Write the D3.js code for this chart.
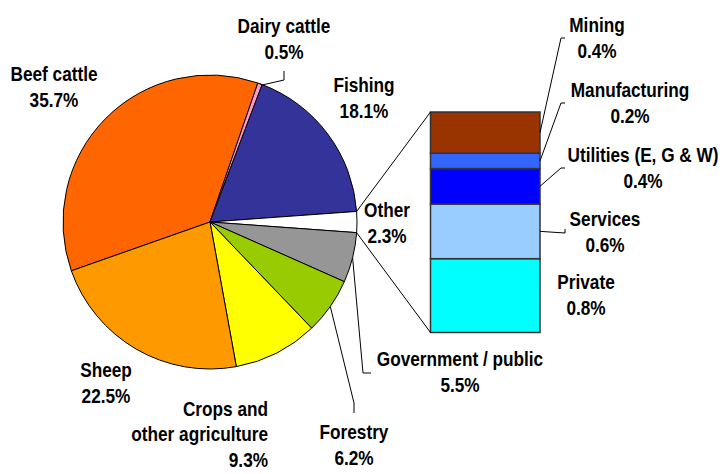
<!DOCTYPE html>
<html>
<head>
<meta charset="utf-8">
<script src="https://cdn.jsdelivr.net/npm/d3@7"></script>
<style>
  html, body { margin: 0; padding: 0; background: #fff; }
  svg { display: block; }
  text { font-family: "Liberation Sans", Arial, sans-serif; font-weight: bold; font-size: 21px; fill: #000; }
</style>
</head>
<body>
<svg id="chart" width="720" height="474"></svg>
<script>
// Share of primary sector (pie) and breakdown of "Other" (stacked bar), in percent
const pieCategories = ["Beef cattle", "Dairy cattle", "Fishing", "Other", "Government / public", "Forestry", "Crops and other agriculture", "Sheep"];
const pieValues = [35.7, 0.5, 18.1, 2.3, 5.5, 6.2, 9.3, 22.5];
const pieColors = ["#ff6600", "#ff99cc", "#333399", "#ffffff", "#969696", "#99cc00", "#ffff00", "#ff9900"];

// Components of "Other", listed from the bottom of the bar upward
const barCategories = ["Private", "Services", "Utilities (E, G & W)", "Manufacturing", "Mining"];
const barValues = [0.77, 0.57, 0.37, 0.16, 0.43];
const barColors = ["#00ffff", "#99ccff", "#0000ff", "#3366ff", "#993300"];

const fmt = d3.format(".1f");
const svg = d3.select("#chart");

// ---- pie ----
const cx = 210, cy = 222, radius = 147;
const start = -109.4 * Math.PI / 180;
const pie = d3.pie().sort(null).value(d => d.value).startAngle(start).endAngle(start + 2 * Math.PI);
const arcs = pie(pieCategories.map((c, i) => ({ name: c, value: pieValues[i], color: pieColors[i] })));
const arc = d3.arc().innerRadius(0).outerRadius(radius);

const gPie = svg.append("g").attr("transform", `translate(${cx},${cy})`);
gPie.selectAll("path").data(arcs).join("path")
  .attr("d", arc)
  .attr("fill", d => d.data.color)
  .attr("stroke", "#000")
  .attr("stroke-width", 1)
  .attr("stroke-linejoin", "round");

const onRim = a => [cx + radius * Math.sin(a), cy - radius * Math.cos(a)];
const midRim = d => onRim((d.startAngle + d.endAngle) / 2);

// ---- stacked bar for "Other" ----
const barX0 = 430.5, barX1 = 540;
const barTotal = d3.sum(barValues);
const y = d3.scaleLinear().domain([0, barTotal]).range([332.5, 112]);
let acc = 0;
const segs = barCategories.map((c, i) => {
  const s = { name: c, value: barValues[i], color: barColors[i], y0: acc, y1: acc + barValues[i] };
  acc += barValues[i];
  return s;
});

svg.append("g").selectAll("rect").data(segs).join("rect")
  .attr("x", barX0)
  .attr("width", barX1 - barX0)
  .attr("y", d => y(d.y1))
  .attr("height", d => y(d.y0) - y(d.y1))
  .attr("fill", d => d.color)
  .attr("stroke", "#333")
  .attr("stroke-width", 1.5);

// connectors from the "Other" slice to the bar corners
const other = arcs.find(d => d.data.name === "Other");
const line = d3.line();
const lines = svg.append("g").attr("fill", "none").attr("stroke", "#000").attr("stroke-width", 1);
lines.append("path").attr("d", line([onRim(other.startAngle), [barX0, y(barTotal)]]));
lines.append("path").attr("d", line([onRim(other.endAngle), [barX0, y(0)]]));

// leader lines for pie labels
const pieLeaders = {
  "Dairy cattle": [[262, 85], [284, 80], [284, 71]],
  "Government / public": [[363, 373], [371, 373]],
  "Forestry": [[354, 403], [354, 413]]
};
arcs.forEach(d => {
  const pts = pieLeaders[d.data.name];
  if (pts) lines.append("path").attr("d", line([midRim(d), ...pts]));
});

// leader lines for bar labels
const barLeaders = {
  "Mining": [[561, 38], [565, 38]],
  "Manufacturing": [[561, 103], [565, 103]],
  "Utilities (E, G & W)": [[561, 168], [565, 168]],
  "Services": [[565, 233], [565, 229]]
};
segs.forEach(s => {
  const pts = barLeaders[s.name];
  if (pts) lines.append("path").attr("d", line([[barX1, y((s.y0 + s.y1) / 2)], ...pts]));
});

// ---- labels ----
const labelPos = {
  "Beef cattle": { x: 54, y: 81, anchor: "middle" },
  "Dairy cattle": { x: 284, y: 33, anchor: "middle" },
  "Fishing": { x: 364, y: 92, anchor: "middle" },
  "Other": { x: 387, y: 217, anchor: "middle" },
  "Government / public": { x: 460, y: 366, anchor: "middle" },
  "Forestry": { x: 354, y: 439, anchor: "middle" },
  "Crops and other agriculture": { x: 268, y: 416, anchor: "end", lines: ["Crops and", "other agriculture"] },
  "Sheep": { x: 106, y: 377, anchor: "middle" },
  "Mining": { x: 597, y: 32, anchor: "middle" },
  "Manufacturing": { x: 630, y: 97, anchor: "middle" },
  "Utilities (E, G & W)": { x: 643, y: 162, anchor: "middle" },
  "Services": { x: 605, y: 226, anchor: "middle" },
  "Private": { x: 586, y: 289, anchor: "middle" }
};
const lineH = 26.3;
const labels = arcs.map(d => ({ name: d.data.name, value: d.data.value }))
  .concat(segs.map(s => ({ name: s.name, value: s.value })));

const gLab = svg.append("g");
labels.forEach(l => {
  const p = labelPos[l.name];
  const rows = (p.lines || [l.name]).concat([fmt(l.value) + "%"]);
  const lh = p.lines ? 25.5 : lineH;
  const t = gLab.append("text")
    .attr("transform", `translate(${p.x},${p.y}) scale(0.82,1)`)
    .attr("text-anchor", p.anchor);
  rows.forEach((r, i) => t.append("tspan").attr("x", 0).attr("y", i * lh).text(r));
});
</script>
</body>
</html>
